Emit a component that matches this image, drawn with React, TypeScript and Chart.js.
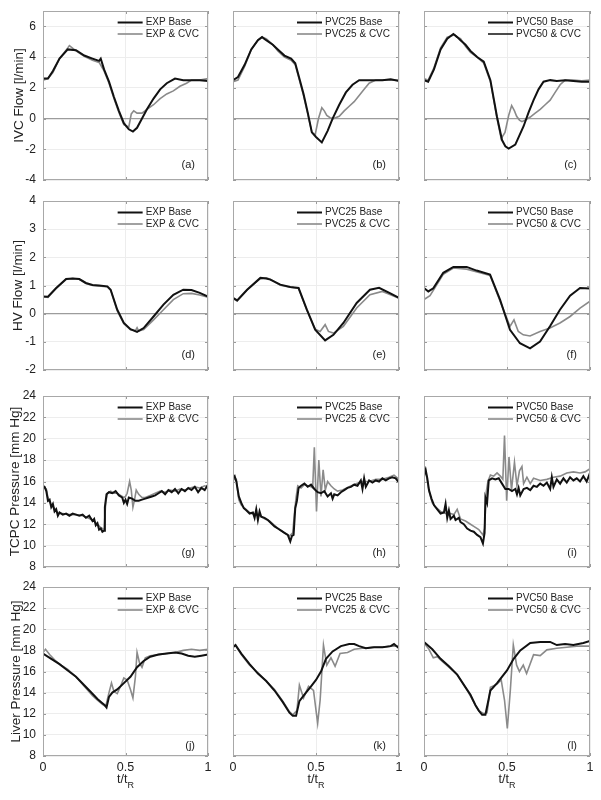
import React, { useEffect, useRef } from 'react';
import { Chart, registerables } from 'chart.js';
Chart.register(...registerables);

type P = [number, number][];

// ---------- Row 1: IVC flow [l/min] ----------
const ivcExpBase: P = [[0,2.6],[0.03,2.6],[0.06,3.1],[0.1,3.9],[0.15,4.5],[0.2,4.45],[0.25,4.1],[0.3,3.9],[0.34,3.75],[0.35,3.9],[0.37,3.2],[0.4,2.4],[0.43,1.4],[0.46,0.5],[0.49,-0.3],[0.52,-0.7],[0.545,-0.85],[0.57,-0.6],[0.6,0.0],[0.63,0.6],[0.67,1.3],[0.71,1.9],[0.75,2.3],[0.8,2.6],[0.85,2.5],[0.9,2.5],[0.95,2.5],[1,2.45]];
const ivcExpCvc: P = [[0,2.5],[0.03,2.6],[0.06,3.0],[0.1,3.9],[0.15,4.6],[0.16,4.75],[0.2,4.4],[0.25,4.05],[0.3,3.8],[0.34,3.65],[0.37,3.1],[0.4,2.3],[0.43,1.3],[0.46,0.4],[0.49,-0.4],[0.52,-0.55],[0.535,0.3],[0.55,0.5],[0.57,0.35],[0.6,0.35],[0.63,0.6],[0.67,0.9],[0.71,1.3],[0.75,1.6],[0.79,1.8],[0.83,2.1],[0.87,2.3],[0.9,2.5],[0.95,2.5],[1,2.6]];
const ivcP25Base: P = [[0,2.5],[0.03,2.7],[0.07,3.5],[0.11,4.5],[0.15,5.1],[0.175,5.3],[0.2,5.1],[0.24,4.8],[0.27,4.5],[0.31,4.1],[0.35,3.9],[0.375,3.6],[0.4,2.6],[0.425,1.6],[0.45,0.4],[0.475,-0.9],[0.5,-1.2],[0.535,-1.55],[0.57,-0.8],[0.6,0.0],[0.64,0.9],[0.68,1.7],[0.72,2.2],[0.76,2.5],[0.8,2.5],[0.85,2.5],[0.9,2.5],[0.95,2.55],[1,2.45]];
const ivcP25Cvc: P = [[0,2.4],[0.03,2.5],[0.07,3.4],[0.11,4.5],[0.15,5.1],[0.175,5.3],[0.2,5.2],[0.24,4.8],[0.27,4.4],[0.31,4.0],[0.35,3.8],[0.375,3.5],[0.4,2.5],[0.425,1.5],[0.45,0.3],[0.475,-0.9],[0.495,-1.05],[0.515,0.0],[0.535,0.7],[0.55,0.5],[0.565,0.2],[0.585,0.05],[0.605,0.0],[0.64,0.15],[0.67,0.5],[0.7,0.8],[0.73,1.1],[0.76,1.5],[0.79,1.9],[0.82,2.3],[0.86,2.5],[0.9,2.5],[0.95,2.5],[1,2.5]];
const ivcP50Base: P = [[0,2.5],[0.025,2.4],[0.06,3.2],[0.1,4.5],[0.14,5.2],[0.177,5.5],[0.2,5.3],[0.22,5.1],[0.25,4.8],[0.28,4.4],[0.32,4.0],[0.36,3.7],[0.4,2.5],[0.42,1.3],[0.44,0.1],[0.47,-1.4],[0.49,-1.8],[0.51,-1.95],[0.55,-1.7],[0.575,-1.1],[0.6,-0.5],[0.63,0.4],[0.66,1.2],[0.69,1.9],[0.72,2.4],[0.76,2.5],[0.8,2.45],[0.85,2.5],[0.9,2.45],[0.95,2.4],[1,2.4]];
const ivcP50Cvc: P = [[0,2.6],[0.025,2.5],[0.06,3.3],[0.1,4.6],[0.14,5.3],[0.185,5.45],[0.2,5.3],[0.22,5.2],[0.25,4.7],[0.28,4.3],[0.32,4.0],[0.36,3.6],[0.4,2.4],[0.42,1.2],[0.44,0.0],[0.465,-1.3],[0.488,-0.9],[0.51,0.2],[0.528,0.85],[0.545,0.5],[0.558,0.15],[0.575,-0.1],[0.59,-0.2],[0.61,-0.1],[0.64,0.1],[0.67,0.35],[0.7,0.6],[0.73,0.9],[0.76,1.2],[0.79,1.7],[0.82,2.2],[0.85,2.5],[0.9,2.5],[0.95,2.45],[1,2.5]];

// ---------- Row 2: HV flow [l/min] ----------
const hvExpBase: P = [[0,0.61],[0.03,0.6],[0.08,0.91],[0.14,1.23],[0.18,1.25],[0.22,1.23],[0.26,1.09],[0.3,1.02],[0.34,1.0],[0.39,0.97],[0.41,0.85],[0.45,0.14],[0.49,-0.33],[0.53,-0.55],[0.57,-0.65],[0.61,-0.51],[0.67,-0.1],[0.73,0.32],[0.79,0.67],[0.85,0.85],[0.9,0.84],[0.95,0.74],[1,0.61]];
const hvExpCvc: P = [[0,0.6],[0.03,0.58],[0.08,0.9],[0.14,1.22],[0.18,1.25],[0.22,1.22],[0.26,1.07],[0.3,1.0],[0.34,0.98],[0.39,0.95],[0.41,0.83],[0.45,0.1],[0.49,-0.36],[0.53,-0.57],[0.56,-0.6],[0.57,-0.5],[0.58,-0.62],[0.61,-0.56],[0.67,-0.22],[0.73,0.14],[0.79,0.5],[0.85,0.71],[0.9,0.72],[0.95,0.66],[1,0.58]];
const hvP25Base: P = [[0,0.56],[0.025,0.47],[0.085,0.85],[0.165,1.27],[0.2,1.25],[0.225,1.21],[0.285,1.03],[0.345,0.95],[0.395,0.91],[0.445,0.14],[0.495,-0.57],[0.555,-0.95],[0.605,-0.75],[0.665,-0.33],[0.745,0.38],[0.825,0.85],[0.88,0.92],[0.945,0.73],[1,0.56]];
const hvP25Cvc: P = [[0,0.54],[0.025,0.45],[0.085,0.84],[0.165,1.25],[0.2,1.27],[0.225,1.22],[0.285,1.01],[0.345,0.94],[0.395,0.9],[0.445,0.12],[0.495,-0.55],[0.525,-0.63],[0.555,-0.39],[0.575,-0.63],[0.605,-0.69],[0.665,-0.45],[0.745,0.2],[0.825,0.67],[0.9,0.79],[0.945,0.68],[1,0.55]];
const hvP50Base: P = [[0,0.91],[0.026,0.79],[0.056,0.9],[0.116,1.45],[0.177,1.66],[0.257,1.66],[0.317,1.53],[0.398,1.39],[0.458,0.5],[0.518,-0.57],[0.578,-1.05],[0.639,-1.23],[0.699,-0.99],[0.759,-0.45],[0.819,0.14],[0.88,0.64],[0.94,0.91],[1,0.89]];
const hvP50Cvc: P = [[0,0.5],[0.036,0.64],[0.116,1.4],[0.177,1.62],[0.257,1.58],[0.337,1.45],[0.398,1.36],[0.458,0.45],[0.518,-0.45],[0.542,-0.22],[0.568,-0.63],[0.598,-0.75],[0.639,-0.79],[0.699,-0.63],[0.759,-0.51],[0.819,-0.33],[0.88,-0.1],[0.94,0.2],[1,0.44]];

// ---------- Row 3: TCPC pressure [mm Hg] ----------
const tcpcExpBase: P = [[0,15.6],[0.01,15.5],[0.02,15.1],[0.03,14.2],[0.04,14.3],[0.05,13.6],[0.06,13.9],[0.07,13.2],[0.08,13.4],[0.09,12.8],[0.1,13.1],[0.12,12.9],[0.14,13.0],[0.16,12.8],[0.18,13.0],[0.2,12.9],[0.22,12.8],[0.24,12.9],[0.26,12.6],[0.28,12.8],[0.3,12.3],[0.31,12.5],[0.32,11.9],[0.33,12.1],[0.34,11.5],[0.35,11.6],[0.36,11.3],[0.37,11.4],[0.375,13.6],[0.385,14.8],[0.4,15.0],[0.42,14.9],[0.44,15.1],[0.46,14.7],[0.48,14.5],[0.49,14.0],[0.5,14.3],[0.51,13.9],[0.52,14.5],[0.54,14.4],[0.56,14.2],[0.58,14.2],[0.6,14.3],[0.62,14.4],[0.64,14.5],[0.66,14.6],[0.68,14.7],[0.7,14.9],[0.72,15.1],[0.74,14.8],[0.76,15.2],[0.78,15.0],[0.8,15.3],[0.82,14.9],[0.84,15.3],[0.86,15.1],[0.88,15.4],[0.9,15.2],[0.92,15.5],[0.94,15.0],[0.96,15.4],[0.98,15.2],[1,15.7]];
const tcpcExpCvc: P = [[0,15.5],[0.02,15.3],[0.03,14.5],[0.05,13.8],[0.07,13.5],[0.09,13.0],[0.12,13.0],[0.16,12.9],[0.2,12.9],[0.24,12.8],[0.27,12.6],[0.3,12.4],[0.33,12.0],[0.35,11.7],[0.37,11.5],[0.38,14.0],[0.39,14.9],[0.41,15.1],[0.43,14.9],[0.45,14.9],[0.47,14.7],[0.49,14.5],[0.5,14.6],[0.51,14.9],[0.525,16.0],[0.535,15.2],[0.545,13.6],[0.555,14.3],[0.565,15.2],[0.58,14.8],[0.6,14.5],[0.62,14.5],[0.65,14.7],[0.68,14.9],[0.71,15.1],[0.74,15.0],[0.77,15.2],[0.8,15.1],[0.83,15.3],[0.86,15.2],[0.89,15.4],[0.92,15.5],[0.95,15.4],[0.98,15.6],[1,15.5]];
const tcpcP25Base: P = [[0,16.3],[0.01,16.5],[0.02,16.0],[0.035,14.6],[0.05,14.0],[0.065,13.5],[0.08,13.3],[0.1,13.0],[0.12,13.1],[0.13,12.6],[0.14,13.4],[0.15,12.4],[0.16,13.2],[0.17,12.7],[0.19,12.6],[0.21,12.4],[0.23,12.1],[0.25,11.8],[0.27,11.6],[0.29,11.4],[0.31,11.2],[0.33,11.0],[0.345,10.4],[0.355,10.9],[0.365,11.0],[0.375,13.5],[0.385,14.2],[0.395,15.4],[0.41,15.6],[0.43,15.8],[0.45,15.5],[0.47,15.7],[0.49,15.3],[0.51,15.0],[0.53,14.9],[0.55,15.1],[0.57,14.6],[0.59,14.9],[0.6,14.4],[0.61,14.8],[0.63,14.7],[0.65,15.0],[0.67,15.2],[0.69,15.4],[0.71,15.5],[0.73,15.7],[0.75,15.6],[0.77,16.1],[0.78,15.3],[0.79,16.3],[0.8,15.5],[0.82,16.1],[0.84,15.9],[0.86,16.1],[0.88,16.0],[0.9,16.3],[0.92,16.1],[0.94,16.3],[0.96,16.4],[0.98,16.3],[1,15.9]];
const tcpcP25Cvc: P = [[0,16.2],[0.02,16.2],[0.035,14.3],[0.05,13.8],[0.07,13.5],[0.1,13.1],[0.13,12.9],[0.16,12.8],[0.19,12.5],[0.22,12.3],[0.25,11.9],[0.28,11.5],[0.31,11.2],[0.34,10.9],[0.36,11.2],[0.37,13.0],[0.38,14.5],[0.39,15.6],[0.41,15.4],[0.43,15.7],[0.45,15.6],[0.47,15.5],[0.48,15.4],[0.49,19.2],[0.503,13.2],[0.517,18.0],[0.53,14.6],[0.543,17.1],[0.556,15.2],[0.57,16.0],[0.59,15.6],[0.61,15.3],[0.63,15.1],[0.66,15.2],[0.7,15.5],[0.74,15.8],[0.78,16.0],[0.82,16.0],[0.86,16.2],[0.9,16.2],[0.94,16.4],[0.97,16.6],[1,16.2]];
const tcpcP50Base: P = [[0,16.6],[0.01,17.1],[0.02,16.3],[0.03,15.2],[0.045,14.4],[0.06,13.8],[0.08,13.4],[0.1,13.0],[0.12,13.1],[0.13,13.9],[0.14,12.6],[0.15,13.3],[0.16,12.5],[0.18,12.8],[0.19,12.4],[0.21,12.6],[0.22,12.2],[0.24,12.0],[0.26,11.6],[0.28,11.4],[0.3,11.3],[0.32,11.0],[0.34,10.8],[0.355,10.2],[0.365,11.2],[0.37,14.5],[0.38,14.0],[0.39,16.1],[0.41,16.3],[0.43,16.2],[0.45,16.3],[0.47,15.8],[0.49,15.3],[0.51,15.3],[0.53,15.1],[0.55,15.3],[0.56,14.8],[0.57,15.4],[0.58,14.7],[0.6,15.3],[0.62,15.4],[0.64,15.2],[0.66,15.6],[0.68,15.5],[0.7,15.8],[0.72,15.6],[0.74,15.9],[0.76,15.3],[0.77,16.4],[0.78,15.5],[0.8,16.2],[0.82,15.8],[0.84,16.3],[0.86,15.9],[0.88,16.4],[0.9,16.1],[0.92,16.3],[0.94,16.0],[0.96,16.5],[0.98,16.0],[1,16.8]];
const tcpcP50Cvc: P = [[0,16.4],[0.01,17.0],[0.03,15.1],[0.05,14.0],[0.07,13.6],[0.1,13.2],[0.13,13.0],[0.16,13.0],[0.18,12.9],[0.2,13.4],[0.22,12.5],[0.25,12.3],[0.28,12.0],[0.3,11.8],[0.33,11.5],[0.355,11.0],[0.365,11.6],[0.375,15.0],[0.385,16.0],[0.4,16.6],[0.42,16.5],[0.44,16.8],[0.46,16.5],[0.475,16.2],[0.485,20.3],[0.498,14.2],[0.512,18.3],[0.527,15.2],[0.545,17.8],[0.56,15.6],[0.575,17.0],[0.59,17.4],[0.6,15.8],[0.62,16.4],[0.64,15.8],[0.66,16.3],[0.7,16.1],[0.74,16.2],[0.78,16.4],[0.82,16.5],[0.86,16.8],[0.9,16.9],[0.94,16.8],[0.97,16.9],[1,17.2]];

// ---------- Row 4: Liver pressure [mm Hg] ----------
const livExpBase: P = [[0,17.7],[0.05,17.2],[0.1,16.7],[0.15,16.1],[0.2,15.5],[0.25,14.7],[0.3,13.9],[0.33,13.4],[0.36,13.0],[0.375,12.8],[0.385,12.6],[0.4,13.6],[0.42,14.0],[0.45,14.3],[0.49,14.9],[0.53,15.5],[0.57,16.4],[0.61,17.0],[0.65,17.4],[0.7,17.6],[0.75,17.7],[0.8,17.8],[0.84,17.7],[0.88,17.5],[0.92,17.4],[0.96,17.5],[1,17.6]];
const livExpCvc: P = [[0,17.8],[0.015,18.1],[0.04,17.6],[0.07,17.1],[0.1,16.7],[0.15,16.2],[0.2,15.5],[0.25,14.6],[0.3,13.7],[0.33,13.3],[0.36,12.9],[0.38,12.7],[0.4,14.0],[0.415,14.9],[0.43,14.1],[0.45,13.9],[0.47,14.6],[0.49,15.4],[0.51,15.2],[0.53,14.3],[0.545,13.5],[0.56,15.5],[0.57,17.8],[0.585,16.8],[0.6,16.4],[0.62,17.3],[0.65,17.5],[0.7,17.6],[0.75,17.7],[0.8,17.8],[0.85,18.0],[0.9,18.1],[0.95,18.0],[1,18.1]];
const livP25Base: P = [[0,18.3],[0.015,18.5],[0.05,17.7],[0.1,16.7],[0.15,15.8],[0.2,15.1],[0.25,14.2],[0.3,13.1],[0.34,12.1],[0.36,11.8],[0.38,11.8],[0.4,13.2],[0.43,13.8],[0.47,14.6],[0.5,15.2],[0.53,16.0],[0.56,17.2],[0.6,17.9],[0.65,18.4],[0.7,18.6],[0.73,18.6],[0.76,18.4],[0.8,18.2],[0.85,18.3],[0.9,18.3],[0.95,18.4],[0.97,18.6],[1,18.2]];
const livP25Cvc: P = [[0,18.3],[0.015,18.5],[0.05,17.6],[0.1,16.6],[0.15,15.9],[0.2,15.1],[0.25,14.3],[0.3,13.2],[0.34,12.2],[0.36,11.9],[0.385,12.3],[0.4,14.7],[0.425,13.5],[0.455,14.6],[0.485,14.2],[0.51,11.1],[0.525,13.3],[0.545,18.5],[0.565,16.6],[0.59,17.3],[0.615,16.5],[0.645,17.7],[0.69,17.8],[0.73,18.1],[0.78,18.2],[0.84,18.3],[0.9,18.3],[0.95,18.4],[1,18.4]];
const livP50Base: P = [[0,18.8],[0.05,18.1],[0.1,17.2],[0.15,16.5],[0.2,15.7],[0.25,14.5],[0.28,13.8],[0.31,12.8],[0.33,12.3],[0.35,11.9],[0.37,11.9],[0.4,14.2],[0.44,14.9],[0.5,16.1],[0.54,17.2],[0.58,18.0],[0.64,18.7],[0.7,18.8],[0.76,18.8],[0.8,18.5],[0.85,18.6],[0.9,18.5],[0.96,18.7],[1,18.9]];
const livP50Cvc: P = [[0,18.7],[0.03,18.1],[0.056,17.3],[0.08,17.4],[0.1,17.1],[0.15,16.4],[0.2,15.7],[0.25,14.5],[0.3,13.1],[0.33,12.3],[0.36,12.0],[0.38,12.1],[0.4,14.5],[0.44,14.8],[0.465,15.2],[0.485,13.3],[0.502,10.6],[0.52,14.2],[0.538,18.5],[0.558,16.6],[0.575,16.0],[0.598,16.6],[0.618,15.8],[0.66,17.6],[0.7,17.5],[0.74,18.05],[0.8,18.2],[0.86,18.3],[0.92,18.4],[1,18.4]];

const baseSeries: P[][] = [
  [ivcExpBase, ivcP25Base, ivcP50Base],
  [hvExpBase, hvP25Base, hvP50Base],
  [tcpcExpBase, tcpcP25Base, tcpcP50Base],
  [livExpBase, livP25Base, livP50Base],
];
const cvcSeries: P[][] = [
  [ivcExpCvc, ivcP25Cvc, ivcP50Cvc],
  [hvExpCvc, hvP25Cvc, hvP50Cvc],
  [tcpcExpCvc, tcpcP25Cvc, tcpcP50Cvc],
  [livExpCvc, livP25Cvc, livP50Cvc],
];

const modelNames = ['EXP', 'PVC25', 'PVC50'];
const yTitles = ['IVC Flow [l/min]', 'HV Flow [l/min]', 'TCPC Pressure [mm Hg]', 'Liver Pressure [mm Hg]'];
const panelLetters = [['a', 'b', 'c'], ['d', 'e', 'f'], ['g', 'h', 'i'], ['j', 'k', 'l']];
const yMins = [-4, -2, 8, 8];
const yMaxs = [7, 4, 24, 24];
const ySteps = [2, 1, 2, 2];
const xTickStep = 0.5;

const colLeft = [43, 233, 424];
const colRight = [208, 399, 590];
const rowTop = [11, 201, 396, 587];
const rowBottom = [180, 370, 567, 756];
const yTitleX = [19, 18, 15, 16];
const labelOffset = [15, 15, 14, 10];

const FONT = "'Liberation Sans', Arial, Helvetica, sans-serif";
const BLACK = '#111111';
const GRAY = '#8a8a8a';

function Panel({ r, c }: { r: number; c: number }) {
  const ref = useRef<HTMLCanvasElement>(null);
  const L = 43, T = 11, R = 10;
  const B = r === 3 ? 42 : 8;
  const w = colRight[c] - colLeft[c] + L + R;
  const h = rowBottom[r] - rowTop[r] + T + B;

  useEffect(() => {
    const canvas = ref.current;
    if (!canvas) return;
    const labels = [`${modelNames[c]} Base`, `${modelNames[c]} & CVC`];
    const legendColors = r === 0 && c === 2 ? [BLACK, '#1e1e1e'] : [BLACK, GRAY];
    const legendWidths = [2, 1.6];

    const decor = {
      id: 'decor',
      afterDraw(chart: any) {
        const { ctx, chartArea: a, scales } = chart;
        ctx.save();
        // inner tick marks
        ctx.strokeStyle = '#9a9a9a';
        ctx.lineWidth = 1;
        ctx.beginPath();
        for (const t of scales.y.ticks) {
          const y = Math.round(scales.y.getPixelForValue(t.value)) + 0.5;
          ctx.moveTo(a.left, y); ctx.lineTo(a.left + 3, y);
          ctx.moveTo(a.right, y); ctx.lineTo(a.right - 3, y);
        }
        for (const t of scales.x.ticks) {
          const x = Math.round(scales.x.getPixelForValue(t.value)) + 0.5;
          ctx.moveTo(x, a.bottom); ctx.lineTo(x, a.bottom - 3);
          ctx.moveTo(x, a.top); ctx.lineTo(x, a.top + 3);
        }
        ctx.stroke();
        // frame
        ctx.strokeStyle = '#a8a8a8';
        ctx.strokeRect(a.left + 0.5, a.top + 0.5, a.right - a.left - 1, a.bottom - a.top - 1);

        // legend
        ctx.font = `10px ${FONT}`;
        ctx.textBaseline = 'middle';
        ctx.textAlign = 'left';
        const maxW = Math.max(...labels.map((s) => ctx.measureText(s).width));
        const textX = a.right - 9 - maxW;
        const ys = [a.top + 11.5, a.top + 23];
        labels.forEach((s, i) => {
          ctx.strokeStyle = legendColors[i];
          ctx.lineWidth = legendWidths[i];
          ctx.beginPath();
          ctx.moveTo(textX - 28, ys[i]);
          ctx.lineTo(textX - 3, ys[i]);
          ctx.stroke();
          ctx.fillStyle = '#222';
          ctx.fillText(s, textX, ys[i]);
        });

        // panel letter
        ctx.font = `11px ${FONT}`;
        ctx.textAlign = 'right';
        ctx.fillStyle = '#222';
        ctx.fillText(`(${panelLetters[r][c]})`, a.right - 13, a.bottom - labelOffset[r]);

        // y title
        if (c === 0) {
          ctx.save();
          ctx.font = `13.5px ${FONT}`;
          ctx.textAlign = 'center';
          ctx.textBaseline = 'middle';
          ctx.fillStyle = '#222';
          ctx.translate(yTitleX[r], (a.top + a.bottom) / 2);
          ctx.rotate(-Math.PI / 2);
          ctx.fillText(yTitles[r], 0, 0);
          ctx.restore();
        }
        // x title with subscript
        if (r === 3) {
          const cx = (a.left + a.right) / 2;
          ctx.font = `12.5px ${FONT}`;
          const mainW = ctx.measureText('t/t').width;
          ctx.font = `9px ${FONT}`;
          const subW = ctx.measureText('R').width;
          const startX = cx - (mainW + subW) / 2;
          ctx.textAlign = 'left';
          ctx.textBaseline = 'middle';
          ctx.font = `12.5px ${FONT}`;
          ctx.fillText('t/t', startX, a.bottom + 23.5);
          ctx.font = `9px ${FONT}`;
          ctx.fillText('R', startX + mainW, a.bottom + 30);
        }
        ctx.restore();
      },
    };

    const toXY = (arr: P) => arr.map(([x, y]) => ({ x, y }));
    const chart = new Chart(canvas, {
      type: 'line',
      data: {
        datasets: [
          { label: labels[0], data: toXY(baseSeries[r][c]), borderColor: BLACK, borderWidth: 2, pointRadius: 0, tension: 0, fill: false },
          { label: labels[1], data: toXY(cvcSeries[r][c]), borderColor: GRAY, borderWidth: 1.6, pointRadius: 0, tension: 0, fill: false },
        ],
      },
      options: {
        responsive: false,
        animation: false,
        events: [],
        layout: { padding: { left: 0, top: T, right: R, bottom: 0 } },
        plugins: { legend: { display: false }, tooltip: { enabled: false } },
        scales: {
          x: {
            type: 'linear',
            min: 0,
            max: 1,
            ticks: {
              stepSize: xTickStep,
              display: r === 3,
              padding: 4,
              font: { family: FONT, size: 12.5 },
              color: '#222',
              maxRotation: 0,
              autoSkip: false,
              callback: (v: any) => String(Number(v)),
            },
            grid: { color: '#ededed', drawTicks: false },
            border: { display: false },
            afterFit: (s: any) => { s.height = B; s.paddingLeft = 0; s.paddingRight = 0; },
          },
          y: {
            type: 'linear',
            min: yMins[r],
            max: yMaxs[r],
            ticks: {
              stepSize: ySteps[r],
              includeBounds: false,
              display: c === 0,
              padding: 7,
              font: { family: FONT, size: 12 },
              color: '#222',
            },
            grid: {
              color: (ctx: any) => (r < 2 && ctx.tick && ctx.tick.value === 0 ? '#9c9c9c' : '#ededed'),
              lineWidth: (ctx: any) => (r < 2 && ctx.tick && ctx.tick.value === 0 ? 1.3 : 1),
              drawTicks: false,
            },
            border: { display: false },
            afterFit: (s: any) => { s.width = L; s.paddingTop = 0; s.paddingBottom = 0; },
          },
        },
      },
      plugins: [decor],
    } as any);
    return () => chart.destroy();
  }, [r, c]);

  return (
    <canvas
      ref={ref}
      width={w}
      height={h}
      style={{ position: 'absolute', left: colLeft[c] - L, top: rowTop[r] - T, width: w, height: h }}
    />
  );
}

export default function App() {
  const cells: any[] = [];
  for (let r = 0; r < 4; r++) {
    for (let c = 0; c < 3; c++) {
      cells.push(<Panel key={`${r}-${c}`} r={r} c={c} />);
    }
  }
  return (
    <div style={{ position: 'absolute', left: 0, top: 0, width: 601, height: 800, background: '#fff', overflow: 'hidden' }}>
      {cells}
    </div>
  );
}
